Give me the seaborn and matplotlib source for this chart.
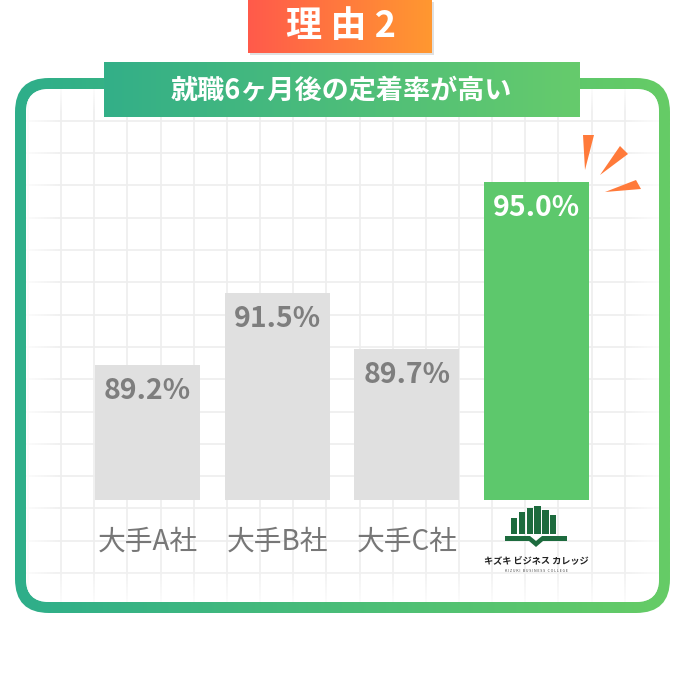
import numpy as np
import matplotlib
matplotlib.use("Agg")
import matplotlib.pyplot as plt
import seaborn as sns
from matplotlib.colors import LinearSegmentedColormap
from matplotlib.patches import FancyBboxPatch, Polygon, Rectangle

# --- data ---
categories = ["大手A社", "大手B社", "大手C社", "キズキビジネスカレッジ"]
retention = [89.2, 91.5, 89.7, 95.0]
tick_labels = ["大手A社", "大手B社", "大手C社", ""]
badge_text = "理 由 2"
banner_text = "就職6ヶ月後の定着率が高い"

bar_colors = ["#E0E0E0", "#E0E0E0", "#E0E0E0", "#5DC86C"]
label_colors = ["#7E7E7E", "#7E7E7E", "#7E7E7E", "white"]

sns.set_theme(style="white")
plt.rcParams['font.family'] = ['Noto Sans CJK JP', 'DejaVu Sans']

W, H = 690, 677
fig = plt.figure(figsize=(6.9, 6.77), dpi=100)
fig.patch.set_facecolor("white")

# background / decoration layer, pixel coordinates (y down)
bg = fig.add_axes([0, 0, 1, 1])
bg.set_axis_off()


def rounded(x0, y0, w, h, r):
    p = FancyBboxPatch((x0, y0), w, h, boxstyle=f"round,pad=0,rounding_size={r}",
                       transform=bg.transData, linewidth=0)
    return p


def gradient(x0, y0, x1, y1, c0, c1, clip, z):
    cmap = LinearSegmentedColormap.from_list("g", [c0, c1])
    img = bg.imshow(np.linspace(0, 1, 256).reshape(1, -1), cmap=cmap,
                    extent=[x0, x1, y1, y0], aspect="auto", zorder=z,
                    interpolation="bilinear")
    img.set_clip_path(clip)
    return img


# green frame
outer = rounded(15, 78, 655, 535, 34)
gradient(15, 78, 670, 613, "#2EAE8A", "#66CC66", outer, 1)
inner = rounded(26, 89, 633, 513, 23)
inner.set_facecolor("white")
inner.set_zorder(2)
bg.add_patch(inner)

# grid paper
inner_clip = rounded(26, 89, 633, 513, 23)
for k in range(19):
    x = 28 + 33.15 * k
    ln, = bg.plot([x, x], [89, 602], color="#EEEEEE", lw=1.2, zorder=3)
    ln.set_clip_path(inner_clip)
for k in range(15):
    y = 573 - 32.3 * k
    ln, = bg.plot([26, 659], [y, y], color="#EEEEEE", lw=1.2, zorder=3)
    ln.set_clip_path(inner_clip)

# fade the grid towards the frame
xx, yy = np.meshgrid(np.arange(26, 660), np.arange(89, 603))
d = np.minimum.reduce([xx - 26, 659 - xx, (yy - 89) * 1.5, 602 - yy])
fade = np.zeros(xx.shape + (4,))
fade[..., :3] = 1.0
fade[..., 3] = np.clip(1 - d / 35.0, 0, 1) * 0.8
fade_img = bg.imshow(fade, extent=[26, 659, 602, 89], aspect="auto", zorder=4)
fade_img.set_clip_path(rounded(26, 89, 633, 513, 23))

# top badge with soft shadow
bg.add_patch(Rectangle((250, 2), 184, 53, color="#000000", alpha=0.12, lw=0, zorder=5))
badge = Rectangle((248, 0), 184, 53, transform=bg.transData)
gradient(248, 0, 432, 53, "#FF5A4B", "#FF9830", badge, 6)
bg.text(341, 27, badge_text, color="white", fontsize=26, fontweight="bold",
        ha="center", va="center", zorder=7)

# banner
banner = Rectangle((104, 62), 476, 55, transform=bg.transData)
gradient(104, 62, 580, 117, "#33AF88", "#66CB6C", banner, 8)
bg.text(341, 90, banner_text, color="white", fontsize=19.5, fontweight="bold",
        ha="center", va="center", zorder=9)

# orange sparkle marks next to the winning bar
orange = "#FF7A3A"
for tri in [[(583, 135), (594, 135), (585, 170)],
            [(620, 146), (628, 154), (600, 175)],
            [(636, 180), (641, 189), (605, 192)]]:
    bg.add_patch(Polygon(tri, closed=True, color=orange, lw=0, zorder=9))

# school logo in place of the 4th tick label
logo_green = "#1D6B3E"
tops = [518, 512, 508, 506, 510, 515]
for i, t in enumerate(tops):
    x = 511 + 7.8 * i
    bg.add_patch(Rectangle((x, t), 6.3, 534 - t, color=logo_green, lw=0, zorder=9))
bg.add_patch(Polygon([(505, 536), (530, 536), (536, 541), (542, 536), (567, 536),
                      (567, 541), (543, 541), (536, 547), (529, 541), (505, 541)],
                     closed=True, color=logo_green, lw=0, zorder=9))
bg.text(536, 561, "キズキ ビジネス カレッジ", color="#222222", fontsize=6.6,
        fontweight="bold", ha="center", va="center", zorder=9)
bg.text(536, 571.5, "K I Z U K I   B U S I N E S S   C O L L E G E", color="#444444",
        fontsize=2.6, ha="center", va="center", zorder=9)

bg.set_xlim(0, W)
bg.set_ylim(H, 0)

# --- bar chart layer ---
left_px, right_px = 82.7, 601.3
top_px, base_px = 122, 500
ax = fig.add_axes([left_px / W, (H - base_px) / H,
                   (right_px - left_px) / W, (base_px - top_px) / H])
ax.set_facecolor("none")
ax.set_zorder(5)
sns.barplot(x=categories, y=retention, hue=categories, palette=bar_colors,
            width=0.81, saturation=1, legend=False, ax=ax, linewidth=0)
ax.set_ylim(84.92, 96.92)
ax.set_xlim(-0.5, 3.5)
for i, v in enumerate(retention):
    ax.text(i, v - 0.82, f"{v:.1f}%", ha="center", va="center", fontsize=20.5,
            fontweight="bold", color=label_colors[i])
ax.set_xticks(range(len(categories)))
ax.set_xticklabels(tick_labels, fontsize=20, color="#777777")
ax.tick_params(axis="x", length=0, pad=19)
ax.set_yticks([])
ax.set_xlabel("")
ax.set_ylabel("")
sns.despine(ax=ax, left=True, bottom=True)

fig.savefig("out.png", dpi=100, facecolor="white")
